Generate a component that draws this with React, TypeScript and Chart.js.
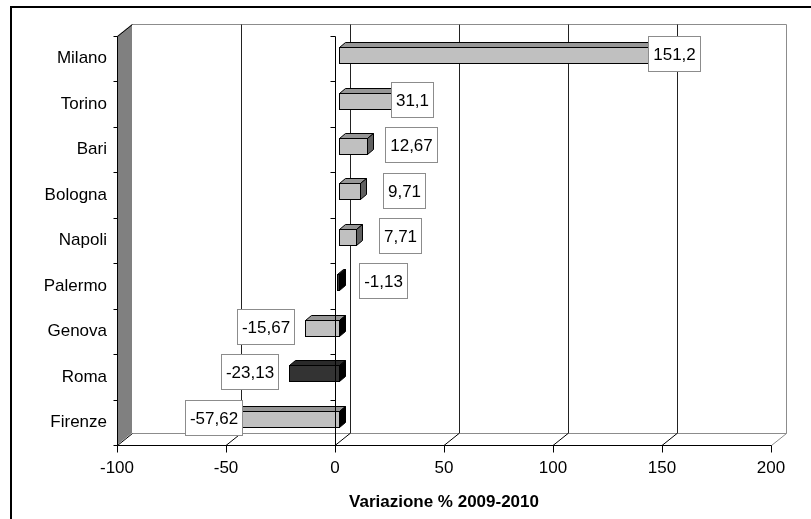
import React, { useEffect, useRef } from "react";
import { Chart, registerables } from "chart.js";

Chart.register(...registerables);

const categories = ["Milano", "Torino", "Bari", "Bologna", "Napoli", "Palermo", "Genova", "Roma", "Firenze"];
const values = [151.2, 31.1, 12.67, 9.71, 7.71, -1.13, -15.67, -23.13, -57.62];
const highlighted = ["Palermo", "Roma"];
const xMin = -100;
const xMax = 200;
const xStep = 50;
const axisTitle = "Variazione % 2009-2010";

const FONT = "'Liberation Sans', Arial, Helvetica, sans-serif";
const FS = 17;

const fmt = (v: number) => String(v).replace(".", ",");

// 3D geometry
const WALL_DX = 15;
const WALL_DY = -12;
const BAR_FX = 4;
const BAR_FY = -3.6;
const BAR_DX = 6;
const BAR_DY = -5;

const h = (v: number) => Math.round(v) + 0.5;

const excel3D = {
  id: "excel3D",
  beforeDraw(chart: any) {
    const ctx = chart.ctx;
    ctx.save();
    ctx.fillStyle = "#ffffff";
    ctx.fillRect(0, 0, chart.width, chart.height);
    ctx.strokeStyle = "#000";
    ctx.lineWidth = 2;
    ctx.beginPath();
    ctx.moveTo(11, chart.height + 5);
    ctx.lineTo(11, 7);
    ctx.lineTo(chart.width + 5, 7);
    ctx.stroke();
    ctx.restore();
  },
  beforeDatasetsDraw(chart: any) {
    const ctx = chart.ctx;
    const xs = chart.scales.x;
    const { left: L, right: R, top: T, bottom: B } = chart.chartArea;
    ctx.save();
    ctx.lineWidth = 1;
    const bl = L + WALL_DX, br = R + WALL_DX, bt = T + WALL_DY, bb = B + WALL_DY;
    ctx.fillStyle = "#fff";
    ctx.fillRect(bl, bt, br - bl, bb - bt);
    ctx.strokeStyle = "#8c8c8c";
    ctx.beginPath();
    ctx.moveTo(h(bl), h(bt));
    ctx.lineTo(h(br), h(bt));
    ctx.lineTo(h(br), h(bb));
    ctx.lineTo(h(bl), h(bb));
    ctx.stroke();
    ctx.beginPath();
    ctx.moveTo(h(br), h(bb));
    ctx.lineTo(h(R), h(B));
    ctx.stroke();
    for (let v = xMin + xStep; v < xMax; v += xStep) {
      const px = xs.getPixelForValue(v);
      ctx.strokeStyle = "#222";
      ctx.beginPath();
      ctx.moveTo(h(px + WALL_DX), h(bt));
      ctx.lineTo(h(px + WALL_DX), h(bb));
      ctx.stroke();
      ctx.strokeStyle = "#000";
      ctx.beginPath();
      ctx.moveTo(px, h(B));
      ctx.lineTo(px + WALL_DX, h(bb));
      ctx.stroke();
    }
    ctx.fillStyle = "#808080";
    ctx.beginPath();
    ctx.moveTo(L, T);
    ctx.lineTo(bl, bt);
    ctx.lineTo(bl, bb);
    ctx.lineTo(L, B);
    ctx.closePath();
    ctx.fill();
    ctx.strokeStyle = "#000";
    ctx.beginPath();
    ctx.moveTo(h(bl), h(bt));
    ctx.lineTo(h(L), h(T));
    ctx.lineTo(h(L), h(B));
    ctx.lineTo(h(bl), h(bb));
    ctx.stroke();
    ctx.beginPath();
    ctx.moveTo(h(L), h(B));
    ctx.lineTo(h(R), h(B));
    for (let v = xMin; v <= xMax; v += xStep) {
      const px = h(xs.getPixelForValue(v));
      ctx.moveTo(px, h(B));
      ctx.lineTo(px, h(B) + 7);
    }
    ctx.stroke();
    const n = categories.length;
    const step = (B - T) / n;
    ctx.beginPath();
    for (let i = 0; i <= n; i++) {
      const py = h(T + i * step);
      ctx.moveTo(h(L) - 4, py);
      ctx.lineTo(h(L), py);
    }
    ctx.stroke();
    ctx.restore();
  },
  afterDatasetsDraw(chart: any) {
    const ctx = chart.ctx;
    const xs = chart.scales.x;
    const { top: T, bottom: B } = chart.chartArea;
    const meta = chart.getDatasetMeta(0);
    ctx.save();
    ctx.lineWidth = 1;
    ctx.strokeStyle = "#000";
    ctx.lineJoin = "miter";
    meta.data.forEach((el: any, i: number) => {
      const v = values[i];
      const dark = highlighted.includes(categories[i]);
      const x1 = Math.round(Math.min(el.x, el.base) + BAR_FX) + 0.5;
      const x2 = Math.round(Math.max(el.x, el.base) + BAR_FX) + 0.5;
      const y1 = Math.round(el.y - el.height / 2 + BAR_FY) + 0.5;
      const y2 = Math.round(el.y + el.height / 2 + BAR_FY) + 0.5;
      const front = dark ? "#333333" : "#c0c0c0";
      const top = dark ? "#2a2a2a" : "#969696";
      const side = v < 0 ? "#000000" : dark ? "#1a1a1a" : "#606060";
      ctx.fillStyle = top;
      ctx.beginPath();
      ctx.moveTo(x1, y1);
      ctx.lineTo(x1 + BAR_DX, y1 + BAR_DY);
      ctx.lineTo(x2 + BAR_DX, y1 + BAR_DY);
      ctx.lineTo(x2, y1);
      ctx.closePath();
      ctx.fill();
      ctx.stroke();
      ctx.fillStyle = side;
      ctx.beginPath();
      ctx.moveTo(x2, y1);
      ctx.lineTo(x2 + BAR_DX, y1 + BAR_DY);
      ctx.lineTo(x2 + BAR_DX, y2 + BAR_DY);
      ctx.lineTo(x2, y2);
      ctx.closePath();
      ctx.fill();
      ctx.stroke();
      ctx.fillStyle = front;
      ctx.fillRect(x1, y1, x2 - x1, y2 - y1);
      ctx.strokeRect(x1, y1, x2 - x1, y2 - y1);
    });
    const x0 = h(xs.getPixelForValue(0));
    const n = categories.length;
    const step = (B - T) / n;
    ctx.beginPath();
    ctx.moveTo(x0, h(T));
    ctx.lineTo(x0, h(B));
    for (let i = 0; i <= n; i++) {
      const py = h(T + i * step);
      ctx.moveTo(x0 - 5, py);
      ctx.lineTo(x0, py);
    }
    ctx.stroke();
    ctx.font = `${FS}px ${FONT}`;
    ctx.textAlign = "center";
    ctx.textBaseline = "middle";
    meta.data.forEach((el: any, i: number) => {
      const v = values[i];
      const txt = fmt(v);
      const tw = ctx.measureText(txt).width;
      const bw = Math.round(tw + 9);
      const bh = 35;
      const len = Math.abs(el.x - el.base);
      let cx: number;
      if (len >= 60) {
        cx = el.x + BAR_FX + (v > 0 ? 5 : 0);
      } else if (v > -5) {
        cx = Math.max(el.x, el.base) + BAR_FX + 44;
      } else {
        cx = el.x + BAR_FX - 39;
      }
      const cy = el.y - 5;
      const bx = Math.round(cx - bw / 2) + 0.5;
      const by = Math.round(cy - bh / 2) + 0.5;
      ctx.fillStyle = "#fff";
      ctx.fillRect(bx, by, bw, bh);
      ctx.strokeStyle = "#8c8c8c";
      ctx.strokeRect(bx, by, bw, bh);
      ctx.fillStyle = "#000";
      ctx.fillText(txt, bx + bw / 2, by + bh / 2 + 1);
    });
    ctx.restore();
  },
};

export default function App() {
  const ref = useRef<HTMLCanvasElement | null>(null);
  useEffect(() => {
    if (!ref.current) return;
    const chart = new Chart(ref.current, {
      type: "bar",
      data: {
        labels: categories,
        datasets: [
          {
            data: values,
            backgroundColor: "rgba(0,0,0,0)",
            borderWidth: 0,
            categoryPercentage: 1,
            barPercentage: 0.352,
          },
        ],
      },
      options: {
        responsive: false,
        animation: false,
        devicePixelRatio: 1,
        indexAxis: "y",
        layout: { padding: { left: 0, right: 40, top: 36, bottom: 0 } },
        plugins: { legend: { display: false }, tooltip: { enabled: false } },
        scales: {
          x: {
            type: "linear",
            min: xMin,
            max: xMax,
            ticks: {
              stepSize: xStep,
              color: "#000",
              font: { family: FONT, size: FS },
              padding: 13,
              callback: (v: any) => String(v),
            },
            grid: { display: false, drawTicks: false },
            border: { display: false },
            title: {
              display: true,
              text: axisTitle,
              color: "#000",
              font: { family: FONT, size: FS, weight: "bold" },
              padding: { top: 0, bottom: 6 },
            },
            afterFit: (s: any) => {
              s.height = 74;
            },
          },
          y: {
            type: "category",
            ticks: { color: "#000", font: { family: FONT, size: FS }, padding: 10 },
            grid: { display: false, drawTicks: false },
            border: { display: false },
            afterFit: (s: any) => {
              s.width = 117;
            },
          },
        },
      },
      plugins: [excel3D],
    } as any);
    return () => chart.destroy();
  }, []);
  return (
    <div style={{ position: "absolute", left: 0, top: 0, width: 811, height: 519 }}>
      <canvas ref={ref} width={811} height={519} style={{ display: "block" }} />
    </div>
  );
}
